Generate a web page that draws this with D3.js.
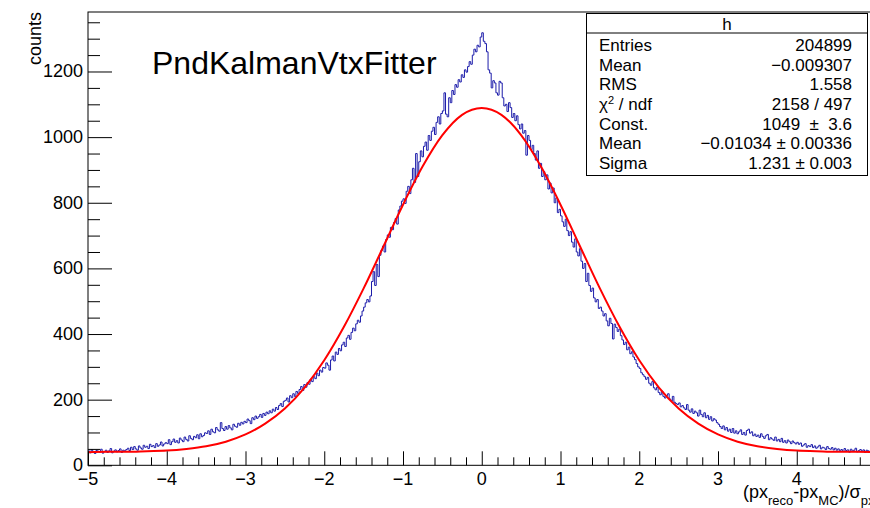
<!DOCTYPE html>
<html>
<head>
<meta charset="utf-8">
<script src="https://cdn.jsdelivr.net/npm/d3@7"></script>
<style>
  body { margin: 0; background: #fff; }
  svg { display: block; font-family: "Liberation Sans", Arial, sans-serif; }
</style>
</head>
<body>
<svg id="chart" width="870" height="508"></svg>
<script>
// histogram h : 500 bins from -5 to 5
var xMin = -5, xMax = 5;
var counts = [
  44,38,47,41,36,45,43,40,49,37,42,46,39,44,51,38,43,47,41,45,50,39,46,44,48,
  52,45,55,48,57,50,46,59,53,49,61,55,58,51,64,57,60,54,66,58,62,71,59,65,69,
  66,78,63,72,80,70,75,68,83,77,72,86,79,74,90,82,78,88,84,93,81,96,87,91,99,
  97,105,94,110,102,99,115,108,104,130,112,106,118,110,121,114,108,125,119,116,128,122,131,126,134,
  130,141,136,127,145,139,150,143,148,155,146,158,152,162,157,166,160,171,165,176,170,182,188,179,195,
  198,205,193,212,206,218,210,225,219,231,240,228,246,238,252,247,262,255,270,264,281,273,290,284,298,
  296,312,305,290,321,333,318,345,338,356,349,367,375,362,388,396,384,405,418,410,431,442,436,455,470,
  482,495,505,498,516,560,590,548,612,575,640,655,668,650,688,702,695,725,718,740,752,735,778,790,805,
  812,798,835,850,828,870,905,862,950,880,925,958,940,972,985,960,1005,990,1018,1030,1008,1045,1062,1040,1072,
  1080,1135,1070,1062,1120,1105,1142,1130,1160,1152,1175,1168,1190,1182,1205,1198,1215,1230,1222,1250,1268,1260,1280,1275,1305,
  1318,1292,1285,1260,1205,1195,1150,1172,1165,1135,1128,1170,1165,1120,1095,1100,1078,1105,1090,1060,1072,1050,1065,1038,1025,
  1040,1012,1020,945,1005,990,962,975,950,930,958,905,920,880,895,870,885,842,860,830,845,800,815,770,780,
  760,742,728,750,715,700,712,680,665,690,650,638,660,622,600,615,560,585,548,530,540,510,498,505,478,
  482,470,455,462,440,425,448,432,385,430,420,408,415,395,382,368,375,352,360,340,346,330,322,310,300,
  295,282,276,270,262,268,250,244,255,236,230,238,222,215,226,210,205,212,218,202,196,210,192,188,185,
  190,178,182,175,170,185,168,162,172,158,165,160,150,168,155,148,160,145,152,140,148,135,142,138,130,
  125,118,112,120,108,115,104,110,100,112,98,105,96,102,108,94,100,92,106,110,98,102,90,95,88,
  92,85,96,88,82,90,94,78,84,80,76,86,74,79,72,82,70,75,68,77,72,66,74,69,65,
  70,64,68,58,62,66,55,60,57,63,54,59,52,56,61,50,55,53,48,57,51,49,54,47,52,
  46,50,44,48,42,51,45,47,40,49,44,46,52,41,45,48,43,47,39,46,44,42,48,45,43
];

// fit curve
var fitX = [-5,-4.75,-4.5,-4.25,-4,-3.75,-3.5,-3.25,-3,-2.75,-2.5,-2.25,-2,-1.75,-1.5,-1.25,-1,-0.75,-0.5,-0.25,
  0,0.25,0.5,0.75,1,1.25,1.5,1.75,2,2.25,2.5,2.75,3,3.25,3.5,3.75,4,4.25,4.5,4.75,5];
var fitY = [40,41,41,43,45,50,58,72,94,127,173,237,320,422,539,666,794,911,1006,1068,
  1089,1068,1006,911,794,666,539,422,320,237,173,127,94,72,58,50,45,43,41,41,40];

var xMajor = [-5,-4,-3,-2,-1,0,1,2,3,4];
var xLabels = ["\u22125","\u22124","\u22123","\u22122","\u22121","0","1","2","3","4"];
var yMajor = [0,200,400,600,800,1000,1200];

var statNames = ["Entries","Mean","RMS","chi2","Const.","Mean","Sigma"];
var statValues = ["204899","\u22120.009307","1.558","2158 / 497","1049 \u00a0\u00b1\u00a0 3.6","\u22120.01034 \u00b1 0.00336","1.231 \u00b1 0.003"];

var svg = d3.select("#chart");
var padL = 88, padR = 875.5, padT = 12, padB = 465.3;

var x = d3.scaleLinear().domain([xMin, xMax]).range([padL, padR]);
var y = d3.scaleLinear().domain([0, 1381.3]).range([padB, padT]);

svg.append("rect").attr("width", 870).attr("height", 508).attr("fill", "#fff");

svg.append("clipPath").attr("id", "clip")
  .append("rect").attr("x", padL).attr("y", padT).attr("width", padR - padL).attr("height", padB - padT);

// histogram outline
var binW = (xMax - xMin) / counts.length;
var steps = counts.map(function(c, i) { return [xMin + i * binW, c]; });
steps.push([xMax, counts[counts.length - 1]]);

var stepLine = d3.line()
  .x(function(d) { return x(d[0]); })
  .y(function(d) { return y(d[1]); })
  .curve(d3.curveStepAfter);

svg.append("path")
  .datum(steps)
  .attr("clip-path", "url(#clip)")
  .attr("fill", "none")
  .attr("stroke", "#1c1caa")
  .attr("stroke-width", 1)
  .attr("d", stepLine);

// fit
var fitLine = d3.line()
  .x(function(d, i) { return x(fitX[i]); })
  .y(function(d) { return y(d); })
  .curve(d3.curveMonotoneX);

svg.append("path")
  .datum(fitY)
  .attr("clip-path", "url(#clip)")
  .attr("fill", "none")
  .attr("stroke", "#ff0000")
  .attr("stroke-width", 2)
  .attr("d", fitLine);

// frame
svg.append("rect")
  .attr("x", padL).attr("y", padT)
  .attr("width", padR - padL).attr("height", padB - padT)
  .attr("fill", "none").attr("stroke", "#000").attr("stroke-width", 1);

// x axis ticks (inside, pointing up)
var xAxis = d3.axisTop(x)
  .tickValues(d3.range(-50, 51, 2).map(function(v) { return v / 10; }))
  .tickSize(8)
  .tickFormat("");
var gx = svg.append("g").attr("transform", "translate(0," + padB + ")").call(xAxis);
gx.select(".domain").remove();
gx.selectAll(".tick line")
  .attr("y2", function(d) { return xMajor.indexOf(Math.round(d * 10) / 10) >= 0 ? -14 : -8; })
  .attr("stroke", "#000");

svg.selectAll("text.xlab")
  .data(xMajor)
  .enter().append("text")
  .attr("class", "xlab")
  .attr("x", function(d) { return x(d); })
  .attr("y", 485)
  .attr("text-anchor", "middle")
  .attr("font-size", 18)
  .text(function(d, i) { return xLabels[i]; });

// y axis ticks (inside, pointing right)
var yAxis = d3.axisRight(y)
  .tickValues(d3.range(0, 1400, 50))
  .tickSize(12)
  .tickFormat("");
var gy = svg.append("g").attr("transform", "translate(" + padL + ",0)").call(yAxis);
gy.select(".domain").remove();
gy.selectAll(".tick line")
  .attr("x2", function(d) { return d % 200 === 0 ? 24 : 12; })
  .attr("stroke", "#000");

svg.selectAll("text.ylab")
  .data(yMajor)
  .enter().append("text")
  .attr("class", "ylab")
  .attr("x", 83)
  .attr("y", function(d) { return y(d) + 6; })
  .attr("text-anchor", "end")
  .attr("font-size", 18)
  .text(function(d) { return d; });

// axis titles
svg.append("text")
  .attr("transform", "translate(41," + padT + ") rotate(-90)")
  .attr("text-anchor", "end")
  .attr("font-size", 18)
  .text("counts");

var xt = svg.append("text")
  .attr("x", 743).attr("y", 498)
  .attr("font-size", 18);
xt.append("tspan").text("(px");
xt.append("tspan").attr("dy", 7).attr("font-size", 13).text("reco");
xt.append("tspan").attr("dy", -7).text("-px");
xt.append("tspan").attr("dy", 7).attr("font-size", 13).text("MC");
xt.append("tspan").attr("dy", -7).text(")/\u03c3");
xt.append("tspan").attr("dy", 7).attr("font-size", 13).text("px");

// title
svg.append("text")
  .attr("x", 152).attr("y", 74)
  .attr("font-size", 32)
  .text("PndKalmanVtxFitter");

// stats box
var box = svg.append("g");
box.append("rect")
  .attr("x", 586.5).attr("y", 13.5)
  .attr("width", 281).attr("height", 162)
  .attr("fill", "#fff").attr("stroke", "#000").attr("stroke-width", 1);
box.append("line")
  .attr("x1", 586.5).attr("x2", 867.5)
  .attr("y1", 33).attr("y2", 33)
  .attr("stroke", "#000");
box.append("text")
  .attr("x", 727).attr("y", 30)
  .attr("text-anchor", "middle")
  .attr("font-size", 17)
  .text("h");

statNames.forEach(function(name, i) {
  var by = 51 + i * 19.65;
  var t = box.append("text").attr("x", 599).attr("y", by).attr("font-size", 17);
  if (name === "chi2") {
    t.append("tspan").text("\u03c7");
    t.append("tspan").attr("dy", -6).attr("font-size", 11).text("2");
    t.append("tspan").attr("dy", 6).text(" / ndf");
  } else {
    t.text(name);
  }
  box.append("text")
    .attr("x", 852).attr("y", by)
    .attr("text-anchor", "end")
    .attr("font-size", 17)
    .text(statValues[i]);
});
</script>
</body>
</html>
